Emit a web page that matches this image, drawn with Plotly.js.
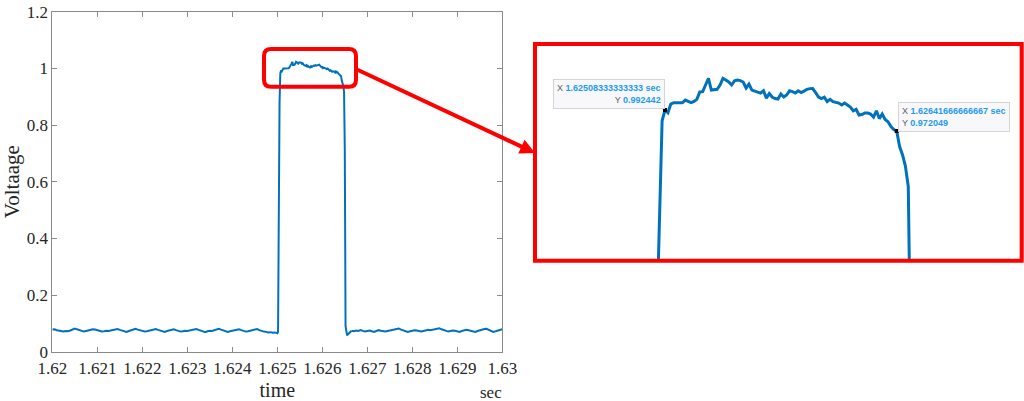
<!DOCTYPE html>
<html><head><meta charset="utf-8">
<script src="https://cdn.plot.ly/plotly-3.0.1.min.js"></script>
<style>html,body{margin:0;padding:0;background:#fff;} #chart{width:1024px;height:401px;}</style>
</head><body><div id="chart"></div>
<script>
// ---- data ----
const baselineBeforeStart = 1.62;
const baselineBeforeStep = 0.00005;
const baselineBefore = [
  0.078,0.079,0.076,0.075,0.072,0.071,0.073,0.072,0.075,0.078,
  0.082,0.079,0.076,0.073,0.071,0.073,0.075,0.077,0.079,0.078,
  0.075,0.073,0.071,0.072,0.074,0.073,0.075,0.077,0.078,0.080,
  0.077,0.074,0.072,0.070,0.073,0.075,0.078,0.081,0.078,0.075,
  0.073,0.071,0.072,0.074,0.076,0.078,0.080,0.077,0.074,0.072,
  0.070,0.073,0.075,0.077,0.079,0.076,0.073,0.071,0.072,0.074,
  0.073,0.075,0.077,0.078,0.080,0.077,0.074,0.071,0.069,0.072,
  0.074,0.073,0.076,0.078,0.081,0.078,0.075,0.072,0.070,0.072,
  0.074,0.076,0.077,0.079,0.076,0.073,0.071,0.072,0.074,0.077,
  0.078,0.080,0.076,0.073,0.071,0.070,0.068,0.069,0.067,0.068
];
const pulseStart = 1.62495;
const pulseStep = 1 / 60000;
const pulse = [
  0.068,0.066,0.067,0.065,0.070,0.77,0.88,0.982,
  0.992442,0.9898,0.9982,0.9995,0.9995,0.9995,0.9995,1.0021,1.0007,0.9995,
  1.0007,1.0028,1.0099,1.0102,1.0167,1.0232,1.0118,1.0122,1.0125,1.0167,
  1.0232,1.0215,1.0196,1.0167,1.0208,1.0215,1.0210,1.0196,1.0138,1.0176,
  1.0118,1.0108,1.0099,1.0089,1.0111,1.0040,1.0084,1.0050,1.0036,1.0031,
  1.0079,1.0050,1.0070,1.0111,1.0103,1.0089,1.0111,1.0094,1.0108,1.0125,
  1.0132,1.0133,1.0094,1.0050,1.0036,1.0050,1.0007,1.0028,1.0005,0.9999,
  0.9992,0.9973,0.9992,0.9973,0.9953,0.9917,0.9931,0.9875,0.9880,0.9895,
  0.9895,0.9885,0.9856,0.9917,0.9841,0.9885,0.9832,0.9810,0.9764,0.9735,
  0.972049,
  0.957,0.949,0.938,0.918,0.71,0.09,0.062,0.058,0.061,0.064,0.067,0.070,0.072,0.074
];
const baselineAfterStart = 1.62665;
const baselineAfterStep = 0.00005;
const baselineAfter = [
  0.074,0.072,0.075,0.073,0.076,0.074,0.071,0.073,0.075,0.072,
  0.070,0.073,0.076,0.074,0.072,0.071,0.073,0.075,0.077,0.078,
  0.080,0.082,0.078,0.075,0.072,0.070,0.072,0.074,0.076,0.075,
  0.073,0.071,0.073,0.075,0.077,0.076,0.078,0.079,0.081,0.083,
  0.079,0.076,0.073,0.071,0.073,0.075,0.074,0.072,0.070,0.073,
  0.075,0.077,0.076,0.074,0.072,0.070,0.073,0.076,0.078,0.080,
  0.081,0.077,0.073,0.070,0.072,0.075,0.078,0.079
];
const tipX = [1.62508333333333, 1.62641666666667];
const tipY = [0.992442, 0.972049];
const xTickVals = [1.62,1.621,1.622,1.623,1.624,1.625,1.626,1.627,1.628,1.629,1.63];
const xTickText = ['1.62','1.621','1.622','1.623','1.624','1.625','1.626','1.627','1.628','1.629','1.63'];
const yTickVals = [0,0.2,0.4,0.6,0.8,1,1.2];
const yTickText = ['0','0.2','0.4','0.6','0.8','1','1.2'];

// ---- layout helpers ----
const W = 1024, H = 401;
const px = v => v / W;
const py = v => 1 - v / H;
const lineColor = '#0072BD';
const serif = 'Liberation Serif, Times New Roman, serif';
const sans = 'Liberation Sans, Arial, sans-serif';

function seg(y, x0, dx, xa, ya, w) {
  return {type:'scatter', mode:'lines', y:y, x0:x0, dx:dx, xaxis:xa, yaxis:ya,
          line:{color:lineColor, width:w}, hoverinfo:'skip', showlegend:false};
}
const traces = [
  seg(baselineBefore, baselineBeforeStart, baselineBeforeStep, 'x', 'y', 2),
  seg(pulse, pulseStart, pulseStep, 'x', 'y', 2),
  seg(baselineAfter, baselineAfterStart, baselineAfterStep, 'x', 'y', 2),
  seg(baselineBefore, baselineBeforeStart, baselineBeforeStep, 'x2', 'y2', 3),
  seg(pulse, pulseStart, pulseStep, 'x2', 'y2', 3),
  seg(baselineAfter, baselineAfterStart, baselineAfterStep, 'x2', 'y2', 3),
  {type:'scatter', mode:'markers', x:tipX, y:tipY, xaxis:'x2', yaxis:'y2',
   marker:{symbol:'square', size:4, color:'#000'}, hoverinfo:'skip', showlegend:false}
];

// rounded rectangle on the main axes (pixel positions)
const rr = {l:264, r:356, t:49, b:86.7, rad:7};
const X0 = px(rr.l), X1 = px(rr.r), YT = py(rr.t), YB = py(rr.b);
const RX = rr.rad / W, RY = rr.rad / H;
const rrPath = `M${X0+RX},${YT} L${X1-RX},${YT} Q${X1},${YT} ${X1},${YT-RY} L${X1},${YB+RY} Q${X1},${YB} ${X1-RX},${YB} L${X0+RX},${YB} Q${X0},${YB} ${X0},${YB+RY} L${X0},${YT-RY} Q${X0},${YT} ${X0+RX},${YT} Z`;

const axisCommon = {
  showline:true, linecolor:'#8a8a8a', linewidth:1, mirror:'ticks',
  ticks:'inside', ticklen:5, tickcolor:'#8a8a8a', showgrid:false, zeroline:false,
  tickfont:{family:serif, size:17, color:'#262626'}
};

function tipText(i) {
  return `<span style="color:#606060">X</span> <b>${String(tipX[i])} sec</b><br>` +
         `<span style="color:#606060">Y</span> <b>${String(tipY[i])}</b>`;
}

const layout = {
  width:W, height:H, margin:{l:0, r:0, t:0, b:0},
  paper_bgcolor:'#fff', plot_bgcolor:'#fff', showlegend:false,
  xaxis: Object.assign({}, axisCommon, {
    domain:[px(52.3), px(502.3)], range:[1.62, 1.63], anchor:'y',
    tickmode:'array', tickvals:xTickVals, ticktext:xTickText, ticklabelstandoff:1,
    title:{text:'time', font:{family:serif, size:20, color:'#262626'}, standoff:8}
  }),
  yaxis: Object.assign({}, axisCommon, {
    domain:[py(351.7), py(11.7)], range:[0, 1.2], anchor:'x',
    tickmode:'array', tickvals:yTickVals, ticktext:yTickText,
    title:{text:'Voltaage', font:{family:serif, size:21, color:'#262626'}, standoff:6}
  }),
  xaxis2: {domain:[px(535), px(1021.7)], range:[1.6243352, 1.627136], anchor:'y2', visible:false},
  yaxis2: {domain:[py(260.7), py(44)], range:[0.84613, 1.05652], anchor:'x2', visible:false},
  shapes: [
    {type:'path', xref:'paper', yref:'paper', path:rrPath, line:{color:'#ff0000', width:4}},
    {type:'rect', xref:'paper', yref:'paper', x0:px(535), x1:px(1021.7), y0:py(260.7), y1:py(44),
     line:{color:'#ff0000', width:4}}
  ],
  annotations: [
    {xref:'paper', yref:'paper', x:px(535), y:py(153), ax:356-535, ay:69-153, text:'',
     showarrow:true, arrowhead:2, arrowsize:0.75, arrowwidth:4, arrowcolor:'#ff0000', standoff:0, startstandoff:0},
    {xref:'paper', yref:'paper', x:px(491), y:py(392), text:'sec', showarrow:false,
     xanchor:'center', yanchor:'middle', font:{family:serif, size:17, color:'#262626'}},
    {xref:'paper', yref:'paper', x:px(664.5), y:py(79.3), xanchor:'right', yanchor:'top', align:'right',
     text:tipText(0), showarrow:false, bgcolor:'#f8f8fb', bordercolor:'#d4d4d8', borderwidth:1, borderpad:3,
     font:{family:sans, size:9, color:'#1f9bf0'}},
    {xref:'paper', yref:'paper', x:px(897.7), y:py(101.7), xanchor:'left', yanchor:'top', align:'left',
     text:tipText(1), showarrow:false, bgcolor:'#f8f8fb', bordercolor:'#d4d4d8', borderwidth:1, borderpad:3,
     font:{family:sans, size:9, color:'#1f9bf0'}}
  ]
};

Plotly.newPlot('chart', traces, layout, {staticPlot:true, displayModeBar:false});
</script>
</body></html>
